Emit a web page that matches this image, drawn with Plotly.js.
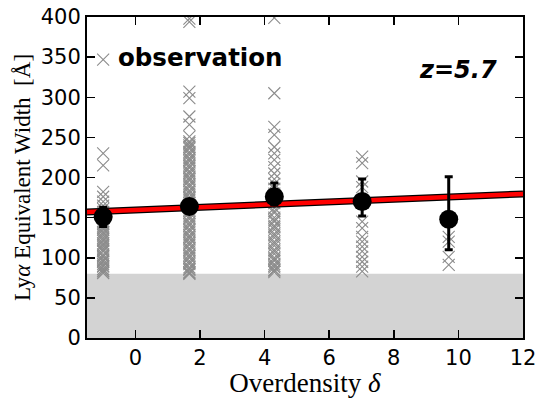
<!DOCTYPE html>
<html>
<head>
<meta charset="utf-8">
<script src="https://cdn.plot.ly/plotly-3.0.1.min.js"></script>
<style>html,body{margin:0;padding:0;background:#fff;}#chart{width:540px;height:398px;}</style>
</head>
<body>
<div id="chart"></div>
<script>
// Overdensity bins (x positions of each column)
const binX = [-1.0, 1.67, 4.3, 7.02, 9.7];

// Individual Lya EW values per bin (gray crosses)
const ew1 = [347, 230, 215, 182, 176, 170, 165, 161, 157, 153, 149, 146, 142, 139, 135, 132, 128, 125, 121, 118, 114, 111, 108, 104, 101, 98, 95, 92, 89, 86, 83, 81,
             144, 137, 130, 123, 116, 109, 102, 96, 90, 84];
const ew2 = [398, 394, 307, 299, 276, 266, 251, 245, 240, 236, 232, 228, 224, 220, 216, 212, 208, 204, 200, 196, 192, 188, 184, 180, 176, 172, 168, 164, 160, 156, 152, 148, 144, 140, 136, 132, 128, 124, 120, 116, 112, 108, 104, 100, 96, 92, 88, 85, 82, 80,
             243, 238, 230, 222, 214, 206, 198, 190, 182, 174, 166, 158, 150, 142, 134, 126, 118, 110, 102, 94, 86, 81];
const ew3 = [399, 305, 263, 253, 238, 230, 222, 213, 205, 198, 192, 186, 180, 174, 168, 162, 156, 150, 145, 140, 135, 130, 125, 120, 115, 110, 105, 100, 96, 92, 88, 85, 82,
             158, 147, 138, 128, 118, 108, 98, 90, 84];
const ew4 = [226, 218, 195, 188, 145, 137, 126, 120, 114, 108, 101, 95, 89, 83];
const ew5 = [126, 120, 101, 91];

// Bin means and errors (black circles)
const meanEW = [151, 164, 176, 170, 148];
const errPlus = [12, 6, 17, 28, 53];
const errMinus = [12, 6, 10, 18, 38];

// Linear fit
const fitX = [-1.5, 12];
const fitY = [157, 179.5];

// Detection limit shading
const limitEW = 80;

const groups = [ew1, ew2, ew3, ew4, ew5];
const crossX = [], crossY = [];
groups.forEach((g, i) => g.forEach(v => { crossX.push(binX[i]); crossY.push(v); }));

const traces = [
  {x: crossX, y: crossY, type: 'scatter', mode: 'markers', hoverinfo: 'skip',
   marker: {symbol: 'x-thin', size: 12, color: '#8c8c8c', line: {color: '#8c8c8c', width: 1.1}}},
  {x: fitX, y: fitY, type: 'scatter', mode: 'lines', line: {color: '#000', width: 7}},
  {x: fitX, y: fitY, type: 'scatter', mode: 'lines', line: {color: '#ff0000', width: 4.5}},
  {x: binX, y: meanEW, type: 'scatter', mode: 'markers',
   marker: {symbol: 'circle', size: 19, color: '#000'},
   error_y: {type: 'data', symmetric: false, array: errPlus, arrayminus: errMinus,
             color: '#000', thickness: 3, width: 4}}
];

const layout = {
  width: 540, height: 398,
  margin: {l: 87, r: 17, t: 17, b: 60},
  paper_bgcolor: '#fff', plot_bgcolor: '#fff',
  showlegend: false,
  font: {family: 'DejaVu Sans', color: '#000'},
  xaxis: {
    range: [-1.5, 12], dtick: 2, tick0: 0,
    ticks: 'inside', ticklen: 8, tickwidth: 1.5, tickcolor: '#000',
    showline: true, linewidth: 2, linecolor: '#000', mirror: 'ticks',
    showgrid: false, zeroline: false,
    tickfont: {family: 'DejaVu Sans', size: 21, color: '#000'},
    title: {text: 'Overdensity <i>δ</i>', font: {family: 'Liberation Serif', size: 27, color: '#000'}, standoff: 2}
  },
  yaxis: {
    range: [0, 400], dtick: 50, tick0: 0,
    ticks: 'inside', ticklen: 8, tickwidth: 1.5, tickcolor: '#000',
    showline: true, linewidth: 2, linecolor: '#000', mirror: 'ticks',
    showgrid: false, zeroline: false,
    tickfont: {family: 'DejaVu Sans', size: 21, color: '#000'},
    title: {text: 'Ly<i>α</i> Equivalent Width  [Å]', font: {family: 'Liberation Serif', size: 23, color: '#000'}, standoff: 4}
  },
  shapes: [
    {type: 'rect', xref: 'x', yref: 'y', x0: fitX[0], x1: fitX[1], y0: 0, y1: limitEW,
     fillcolor: '#d3d3d3', line: {width: 0}, layer: 'below'}
  ],
  annotations: [
    {x: 2.0, y: 350, xref: 'x', yref: 'y', text: '<b>observation</b>', showarrow: false,
     font: {family: 'DejaVu Sans', size: 24.5, color: '#000'}, xanchor: 'center', yanchor: 'middle'},
    {x: 10.0, y: 334, xref: 'x', yref: 'y', text: '<b><i>z=5.7</i></b>', showarrow: false,
     font: {family: 'DejaVu Sans', size: 24, color: '#000'}, xanchor: 'center', yanchor: 'middle'}
  ]
};

Plotly.newPlot('chart', traces, layout, {displayModeBar: false, staticPlot: true});
</script>
</body>
</html>
